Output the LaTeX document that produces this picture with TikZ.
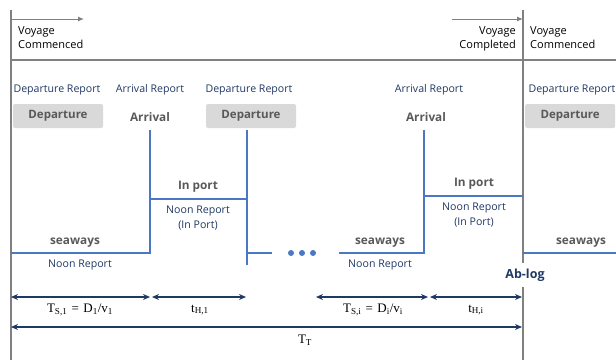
\documentclass[tikz,border=0pt]{standalone}
\usepackage{fontspec}
\setmainfont{Open Sans}
\newfontfamily\mathtimes{Liberation Serif}
\usetikzlibrary{arrows.meta}
\definecolor{navy}{HTML}{203864}
\definecolor{lblue}{HTML}{4A78C2}
\definecolor{gline}{HTML}{808080}
\definecolor{boxg}{HTML}{D9D9D9}
\definecolor{tgray}{HTML}{595959}
\begin{document}
\begin{tikzpicture}[x=1pt,y=-1pt,
  report/.style={text=navy,font=\fontsize{10.6}{15.5}\selectfont,inner sep=0pt},
  phase/.style={text=tgray,font=\fontsize{11.8}{13}\selectfont\bfseries,inner sep=0pt},
  depbox/.style={fill=boxg,rounded corners=2pt,minimum width=90pt,minimum height=24pt,text=tgray,font=\fontsize{11.5}{13}\selectfont\bfseries,inner sep=0pt},
  voy/.style={text=black,font=\fontsize{11}{14}\selectfont,inner sep=0pt,align=left},
  gl/.style={draw=gline,line width=1.8pt},
  ga/.style={draw=gline,line width=1pt,-{Latex[length=6pt,width=5pt]}},
  bl/.style={draw=lblue,line width=1.4pt},
  dim/.style={draw=navy,line width=1.1pt,{Stealth[length=7pt,width=6pt]}-{Stealth[length=7pt,width=6pt]}},
  eq/.style={font=\mathtimes\fontsize{13}{15}\selectfont,inner sep=0pt}]
\useasboundingbox (0,0) rectangle (616,360);
% gray frame lines
\coordinate (L1) at (11,10); \coordinate (L2) at (11,360);
\coordinate (H1) at (11,60); \coordinate (H2) at (616,60);
\coordinate (R1) at (523,10); \coordinate (R2) at (523,263);
\coordinate (R3) at (523,287); \coordinate (R4) at (523,360);
\draw[gl] (L1) -- (L2);
\draw[gl] (H1) -- (H2);
\draw[gl] (R1) -- (R2);
\draw[gl] (R3) -- (R4);
\coordinate (A1) at (11,19); \coordinate (A2) at (84,19);
\coordinate (B1) at (452,19); \coordinate (B2) at (523,19);
\draw[ga] (A1) -- (A2);
\draw[ga] (B1) -- (B2);
\node[voy,anchor=north west] (vc1) at (18,26.5) {Voyage\\Commenced};
\node[voy,anchor=north east,align=right] (vcp) at (516,26.5) {Voyage\\Completed};
\node[voy,anchor=north west] (vc2) at (530,26.5) {Voyage\\Commenced};
% reports
\node[report] (dr1) at (57,90) {Departure Report};
\node[report] (ar1) at (150,90) {Arrival Report};
\node[report] (dr2) at (249,90) {Departure Report};
\node[report] (ar2) at (429,90) {Arrival Report};
\node[report] (dr3) at (572,90) {Departure Report};
\node[depbox] (d1) at (58,116) {Departure};
\node[phase] (a1) at (150,117) {Arrival};
\node[depbox] (d2) at (251,116) {Departure};
\node[phase] (a2) at (426,117) {Arrival};
\node[depbox,anchor=west] (d3) at (525,116) {Departure};
% blue profile
\coordinate (s0) at (11,253); \coordinate (s1) at (150,253);
\coordinate (s2) at (150,130); \coordinate (p1) at (150,199);
\coordinate (p2) at (247,199); \coordinate (q1) at (247,130);
\coordinate (q2) at (247,265); \coordinate (q3) at (247,253);
\coordinate (q4) at (272,253);
\draw[bl] (s0) -- (s1) -- (s2);
\draw[bl] (p1) -- (p2);
\draw[bl] (q1) -- (q2);
\draw[bl] (q3) -- (q4);
\foreach \x [count=\i] in {291,302,313} \fill[lblue] (\x,253) circle (3pt) coordinate (dot\i);
\coordinate (t0) at (339,253); \coordinate (t1) at (424,253);
\coordinate (t2) at (424,130); \coordinate (u1) at (424,196);
\coordinate (u2) at (523,196); \coordinate (w1) at (523,253);
\coordinate (w2) at (616,253);
\draw[bl] (t0) -- (t1) -- (t2);
\draw[bl] (u1) -- (u2);
\draw[bl] (w1) -- (w2);
% labels
\node[phase] (sw1) at (75,243) {seaways};
\node[report] (nr1) at (80,265) {Noon Report};
\node[phase] (ip1) at (198,187) {In port};
\node[report,align=center] (nr2) at (198,218) {Noon Report\\(In Port)};
\node[phase] (sw2) at (380,243) {seaways};
\node[report] (nr3) at (380,265) {Noon Report};
\node[phase] (ip2) at (474,184) {In port};
\node[report,align=center] (nr4) at (474,215) {Noon Report\\(In Port)};
\node[phase] (sw3) at (581,243) {seaways};
\node[text=navy,font=\fontsize{12.5}{14}\selectfont\bfseries,inner sep=0pt] (ab) at (525,275) {Ab-log};
% dimension arrows
\coordinate (m1) at (11,297); \coordinate (m2) at (150,297);
\coordinate (m3) at (152,297); \coordinate (m4) at (246,297);
\coordinate (m5) at (316,297); \coordinate (m6) at (428,297);
\coordinate (m7) at (430,297); \coordinate (m8) at (522,297);
\coordinate (n1) at (11,327); \coordinate (n2) at (522,327);
\draw[dim] (m1) -- (m2);
\draw[dim] (m3) -- (m4);
\draw[dim] (m5) -- (m6);
\draw[dim] (m7) -- (m8);
\draw[dim] (n1) -- (n2);
\node[eq] (e1) at (80,310) {T\textsubscript{S,1}\,\,=\,\,D\textsubscript{1}/v\textsubscript{1}};
\node[eq] (e2) at (200,310) {t\textsubscript{H,1}};
\node[eq] (e3) at (373,310) {T\textsubscript{S,i}\,\,=\,\,D\textsubscript{i}/v\textsubscript{i}};
\node[eq] (e4) at (476,310) {t\textsubscript{H,i}};
\node[eq] (e5) at (305,340) {T\textsubscript{T}};
\end{tikzpicture}
\end{document}
